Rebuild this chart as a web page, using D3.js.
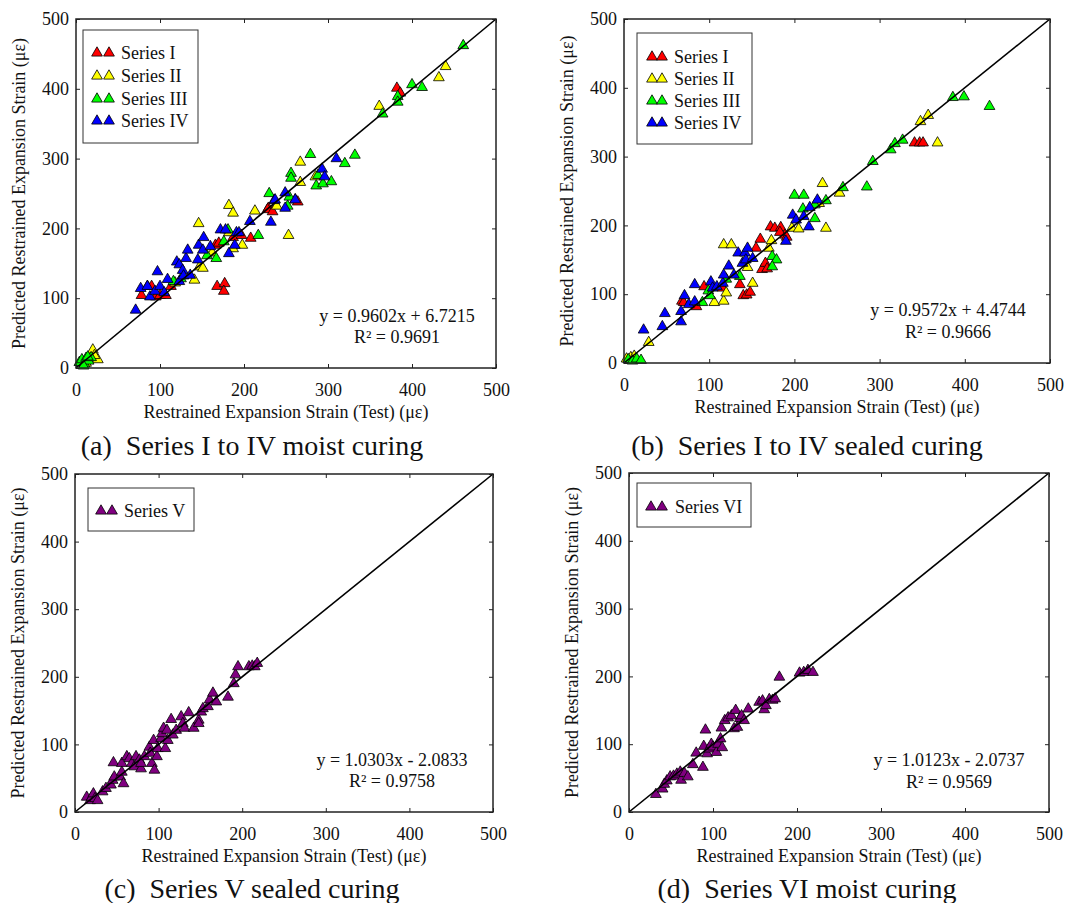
<!DOCTYPE html>
<html>
<head>
<meta charset="utf-8">
<script src="https://cdn.jsdelivr.net/npm/d3@7"></script>
<style>
  body { margin: 0; background: #fff; }
  svg { display: block; }
  text { font-family: "Liberation Serif", "Times New Roman", serif; fill: #111; }
</style>
</head>
<body>
<svg id="fig" width="1090" height="903"></svg>
<script>
// Axis ticks shared by every panel (με)
const tickValues = [0, 100, 200, 300, 400, 500];

// Series names and marker colours
const seriesNames = ["Series I", "Series II", "Series III", "Series IV", "Series V", "Series VI"];
const seriesColors = ["#ff0000", "#ffff00", "#00ff00", "#0000ff", "#800080", "#800080"];

// [test strain, predicted strain] pairs — (a) Series I to IV, moist curing
const aSeriesI = [[78,104],[85,117],[90,117],[95,102],[100,104],[107,104],[113,117],[168,117],[177,121],[176,110],[166,176],[170,179],[187,187],[197,190],[208,186],[229,229],[228,227],[234,224],[261,241],[264,238],[382,401],[386,394]];
const aSeriesII = [[20,26],[26,12],[22,18],[12,7],[118,122],[141,126],[147,145],[151,143],[146,207],[162,165],[182,233],[187,222],[213,225],[187,171],[198,176],[182,194],[253,190],[239,232],[267,295],[267,266],[285,274],[361,375],[432,416],[440,432]];
const aSeriesIII = [[4,8],[7,12],[10,6],[12,14],[15,10],[18,15],[9,3],[14,16],[116,124],[125,128],[156,161],[167,157],[176,181],[181,198],[217,190],[230,250],[252,232],[254,245],[256,279],[256,272],[279,306],[286,261],[288,276],[294,264],[304,267],[320,293],[332,305],[365,364],[383,389],[383,381],[400,406],[412,402],[461,462]];
const aSeriesIV = [[71,83],[77,114],[85,117],[88,102],[94,110],[97,138],[100,117],[105,108],[109,127],[120,152],[123,148],[123,124],[127,140],[128,132],[131,157],[133,169],[136,133],[145,155],[146,176],[152,187],[151,169],[160,174],[172,198],[178,198],[182,164],[189,176],[191,194],[194,194],[207,210],[232,209],[236,240],[237,241],[249,251],[249,229],[261,241],[293,285],[296,274],[310,300]];

// (b) Series I to IV, sealed curing
const bSeriesI = [[68,90],[70,88],[85,82],[94,111],[116,109],[136,114],[140,98],[144,99],[148,103],[155,167],[160,180],[162,136],[166,145],[168,137],[172,198],[177,196],[184,197],[189,186],[191,183],[183,190],[341,320],[347,320],[351,320]];
const bSeriesII = [[3,6],[8,8],[12,10],[29,30],[106,88],[117,90],[120,102],[117,172],[126,172],[145,139],[151,116],[170,167],[173,178],[197,196],[205,195],[229,232],[233,261],[237,196],[253,247],[348,351],[357,360],[368,320]];
const bSeriesIII = [[5,5],[10,3],[15,6],[20,4],[92,88],[99,105],[101,98],[120,122],[136,126],[174,155],[179,150],[174,140],[200,244],[211,244],[210,224],[224,210],[224,230],[237,236],[257,255],[285,256],[292,293],[313,310],[318,319],[327,324],[386,386],[399,387],[429,373]];
const bSeriesIV = [[23,48],[45,53],[48,72],[67,75],[67,60],[71,98],[76,85],[83,89],[83,114],[102,118],[104,109],[109,111],[116,116],[117,128],[123,141],[129,128],[134,160],[139,145],[142,160],[143,150],[145,167],[151,152],[190,177],[198,215],[202,208],[211,213],[217,198],[218,226],[227,237]];

// (c) Series V, sealed curing
const cSeriesV = [[14,22],[18,17],[20,22],[22,27],[24,20],[27,17],[33,30],[37,35],[43,40],[45,47],[47,52],[46,73],[54,52],[56,59],[56,72],[58,42],[62,82],[65,79],[68,72],[71,67],[73,82],[77,77],[79,64],[79,72],[83,82],[89,96],[90,87],[92,72],[94,106],[95,62],[98,82],[99,94],[103,109],[104,116],[106,124],[108,94],[110,121],[111,106],[115,137],[117,114],[121,121],[127,141],[129,131],[131,124],[136,147],[142,124],[148,136],[148,131],[151,148],[153,153],[159,156],[161,166],[165,176],[169,163],[183,170],[190,190],[192,203],[195,215],[208,215],[212,216],[215,215],[218,220]];

// (d) Series VI, moist curing
const dSeriesVI = [[32,26],[40,34],[42,41],[45,46],[49,52],[53,53],[57,56],[61,59],[62,47],[66,57],[70,52],[76,70],[80,87],[88,66],[89,97],[91,121],[93,86],[95,93],[98,100],[100,96],[104,88],[106,100],[109,108],[110,124],[111,95],[114,135],[118,139],[122,142],[125,123],[127,150],[129,125],[132,138],[134,142],[137,135],[142,152],[155,162],[159,164],[161,151],[163,157],[167,166],[171,165],[174,167],[179,199],[203,205],[208,206],[213,209],[219,206]];

// Regression equations printed in each panel
const aEquation = ["y = 0.9602x + 6.7215", "R\u00B2 = 0.9691"];
const bEquation = ["y = 0.9572x + 4.4744", "R\u00B2 = 0.9666"];
const cEquation = ["y = 1.0303x - 2.0833", "R\u00B2 = 0.9758"];
const dEquation = ["y = 1.0123x - 2.0737", "R\u00B2 = 0.9569"];

// Panel captions and axis titles
const captions = ["(a)  Series I to IV moist curing", "(b)  Series I to IV sealed curing", "(c)  Series V sealed curing", "(d)  Series VI moist curing"];
const xTitle = "Restrained Expansion Strain (Test) (\u03BC\u03B5)";
const yTitle = "Predicted Restrained Expansion Strain (\u03BC\u03B5)";

// Page layout for the four panels
const panels = [
  { frame: [76, 19, 496, 368], series: [[0, aSeriesI], [1, aSeriesII], [2, aSeriesIII], [3, aSeriesIV]],
    equation: aEquation, eq: [397, 322, 343], caption: captions[0], cap: [252, 455],
    legend: { box: [83, 30, 115, 113], rows: [53, 76, 99, 121], marks: [97, 109], text: 121 } },
  { frame: [624, 19, 1050, 363], series: [[0, bSeriesI], [1, bSeriesII], [2, bSeriesIII], [3, bSeriesIV]],
    equation: bEquation, eq: [948, 316, 338], caption: captions[1], cap: [807, 455],
    legend: { box: [637, 33, 115, 111], rows: [57, 79, 101, 123], marks: [652, 662], text: 674 } },
  { frame: [75, 474, 493, 812], series: [[4, cSeriesV]],
    equation: cEquation, eq: [392, 766, 787], caption: captions[2], cap: [252, 898],
    legend: { box: [88, 488, 106, 43], rows: [511], marks: [101, 112], text: 124 } },
  { frame: [629, 473, 1049, 812], series: [[5, dSeriesVI]],
    equation: dEquation, eq: [949, 766, 788], caption: captions[3], cap: [807, 898],
    legend: { box: [637, 483, 114, 44], rows: [507], marks: [651, 662], text: 675 } }
];

const svg = d3.select("#fig");
const marker = d3.symbol(d3.symbolTriangle, 50);

panels.forEach(p => {
  const [x0, y0, x1, y1] = p.frame;
  const x = d3.scaleLinear().domain([0, 500]).range([x0, x1]);
  const y = d3.scaleLinear().domain([0, 500]).range([y1, y0]);
  const g = svg.append("g");

  // Axes with inward ticks on all four sides
  const styleAxis = sel => {
    sel.select(".domain").remove();
    sel.selectAll(".tick line").attr("stroke", "#222").attr("stroke-width", 1);
    sel.selectAll(".tick text").attr("font-size", 18).attr("fill", "#111")
      .style("font-family", "'Liberation Serif','Times New Roman',serif");
  };
  g.append("g").attr("transform", `translate(0,${y1})`)
    .call(d3.axisBottom(x).tickValues(tickValues).tickSizeInner(-4).tickSizeOuter(0).tickPadding(15))
    .call(styleAxis);
  g.append("g").attr("transform", `translate(${x0},0)`)
    .call(d3.axisLeft(y).tickValues(tickValues).tickSizeInner(-4).tickSizeOuter(0).tickPadding(7))
    .call(styleAxis);
  g.append("g").attr("transform", `translate(0,${y0})`)
    .call(d3.axisTop(x).tickValues(tickValues).tickSizeInner(-4).tickSizeOuter(0).tickFormat(""))
    .call(styleAxis);
  g.append("g").attr("transform", `translate(${x1},0)`)
    .call(d3.axisRight(y).tickValues(tickValues).tickSizeInner(-4).tickSizeOuter(0).tickFormat(""))
    .call(styleAxis);

  // Data points
  p.series.forEach(([si, values]) => {
    g.append("g").selectAll("path").data(values).join("path")
      .attr("d", marker)
      .attr("transform", d => `translate(${x(d[0])},${y(d[1])})`)
      .attr("fill", seriesColors[si]).attr("stroke", "#000").attr("stroke-width", 0.8);
  });

  // Line of equality
  g.append("line")
    .attr("x1", x(0)).attr("y1", y(0)).attr("x2", x(500)).attr("y2", y(500))
    .attr("stroke", "#000").attr("stroke-width", 1.6);

  // Plot frame
  g.append("rect").attr("x", x0).attr("y", y0).attr("width", x1 - x0).attr("height", y1 - y0)
    .attr("fill", "none").attr("stroke", "#222").attr("stroke-width", 1.5);

  // Legend
  const L = p.legend;
  g.append("rect").attr("x", L.box[0]).attr("y", L.box[1]).attr("width", L.box[2]).attr("height", L.box[3])
    .attr("fill", "#fff").attr("stroke", "#333").attr("stroke-width", 1);
  p.series.forEach(([si], i) => {
    const ry = L.rows[i];
    L.marks.forEach(mx => {
      g.append("path").attr("d", marker).attr("transform", `translate(${mx},${ry})`)
        .attr("fill", seriesColors[si]).attr("stroke", "#000").attr("stroke-width", 0.8);
    });
    g.append("text").attr("x", L.text).attr("y", ry).attr("dy", "0.35em")
      .attr("font-size", 18).text(seriesNames[si]);
  });

  // Regression equation
  g.append("text").attr("x", p.eq[0]).attr("y", p.eq[1]).attr("text-anchor", "middle")
    .attr("font-size", 18).text(p.equation[0]);
  g.append("text").attr("x", p.eq[0]).attr("y", p.eq[2]).attr("text-anchor", "middle")
    .attr("font-size", 18).text(p.equation[1]);

  // Axis titles
  g.append("text").attr("x", (x0 + x1) / 2).attr("y", y1 + 50).attr("text-anchor", "middle")
    .attr("font-size", 18).text(xTitle);
  g.append("text").attr("transform", `translate(${x0 - 51},${(y0 + y1) / 2}) rotate(-90)`)
    .attr("text-anchor", "middle").attr("font-size", 18).text(yTitle);

  // Caption
  g.append("text").attr("x", p.cap[0]).attr("y", p.cap[1]).attr("text-anchor", "middle")
    .attr("font-size", 28).style("white-space", "pre").text(p.caption);
});
</script>
</body>
</html>
